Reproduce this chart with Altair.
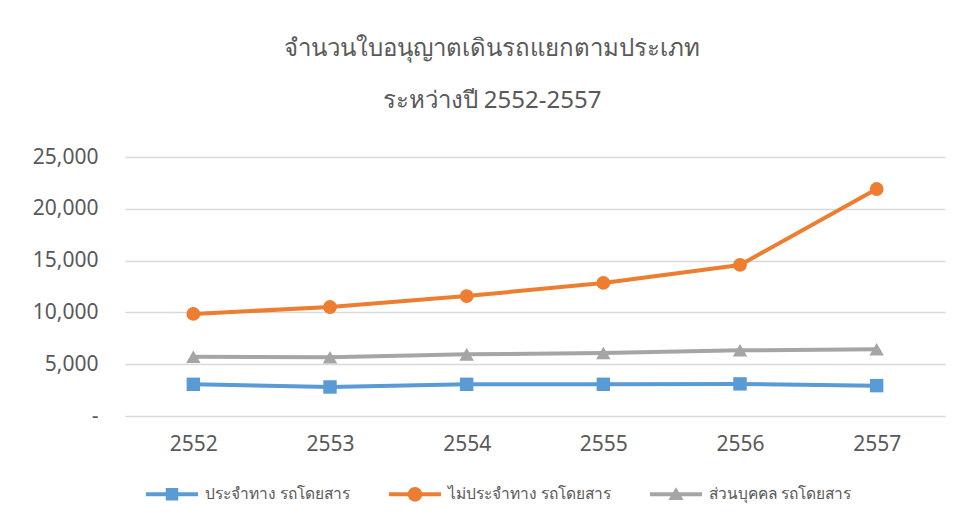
import altair as alt
import pandas as pd

years = ["2552", "2553", "2554", "2555", "2556", "2557"]
series_names = ["ประจำทาง รถโดยสาร", "ไม่ประจำทาง รถโดยสาร", "ส่วนบุคคล รถโดยสาร"]
fixed_route = [3060, 2800, 3060, 3060, 3100, 2930]
non_fixed_route = [9850, 10520, 11580, 12840, 14580, 21910]
private_bus = [5720, 5670, 5950, 6080, 6340, 6440]
colors = ["#5B9BD5", "#ED7D31", "#A5A5A5"]
marker_shapes = ["square", "circle", "triangle-up"]
marker_sizes = [180, 190, 210]
y_ticks = [0, 5000, 10000, 15000, 20000, 25000]
title_lines = ["จำนวนใบอนุญาตเดินรถแยกตามประเภท", "ระหว่างปี 2552-2557"]

rows = []
for name, vals in zip(series_names, [fixed_route, non_fixed_route, private_bus]):
    for y, v in zip(years, vals):
        rows.append({"year": y, "value": v, "series": name})
df = pd.DataFrame(rows)

# legend symbols: line + marker (paths in [-1,1] box)
line_part = "M-1,-0.075 L1,-0.075 L1,0.075 L-1,0.075 Z "
legend_paths = [
    line_part + "M-0.24,-0.24 L0.24,-0.24 L0.24,0.24 L-0.24,0.24 Z",
    line_part + "M-0.28,0 A0.28,0.28 0 1,1 0.28,0 A0.28,0.28 0 1,1 -0.28,0 Z",
    line_part + "M0,-0.27 L0.29,0.22 L-0.29,0.22 Z",
]

color_scale = alt.Scale(domain=series_names, range=colors)
font = "Noto Sans"
label_color = "#595959"

x_enc = alt.X(
    "year:O",
    sort=years,
    scale=alt.Scale(type="point", padding=0.5),
    axis=alt.Axis(
        title=None, labelAngle=0, domain=False, ticks=False, grid=False,
        labelFontSize=21, labelColor=label_color, labelPadding=17, labelFont=font,
    ),
)
y_enc = alt.Y(
    "value:Q",
    scale=alt.Scale(domain=[0, 25000], nice=False),
    axis=alt.Axis(
        title=None, values=y_ticks, domain=False, ticks=False,
        gridColor="#D9D9D9", gridWidth=1.3,
        labelExpr="datum.value == 0 ? '-     ' : format(datum.value, ',')",
        labelFontSize=21, labelColor=label_color, labelPadding=27, labelFont=font,
    ),
)

legend_def = alt.Legend(
    title=None, orient="none", direction="horizontal",
    legendX=21, legendY=311,
    symbolSize=2704, symbolStrokeWidth=0, symbolOpacity=1,
    labelFontSize=15.5, labelColor=label_color, labelFont=font,
    labelOffset=7, columnPadding=38, labelLimit=400,
)

color_enc = alt.Color("series:N", scale=color_scale, sort=series_names, legend=legend_def)

lines = alt.Chart(df).mark_line(strokeWidth=4).encode(
    x=x_enc, y=y_enc, color=color_enc, detail="series:N",
)

point_layers = []
for name, shp, sz in zip(series_names, marker_shapes, marker_sizes):
    point_layers.append(
        alt.Chart(df)
        .transform_filter(alt.datum.series == name)
        .mark_point(filled=True, opacity=1, shape=shp, size=sz)
        .encode(x=x_enc, y=y_enc, color=color_enc)
    )

legend_layer = alt.Chart(df).mark_point(filled=True, opacity=0).encode(
    x=x_enc, y=y_enc,
    color=color_enc,
    shape=alt.Shape(
        "series:N", sort=series_names,
        scale=alt.Scale(domain=series_names, range=legend_paths),
        legend=legend_def,
    ),
)

chart = (
    alt.layer(legend_layer, lines, *point_layers)
    .properties(
        width=820, height=259,
        background="white",
        autosize=alt.AutoSizeParams(type="none"),
        padding={"left": 117, "top": 149, "right": 11, "bottom": 100},
        title=alt.TitleParams(
            text=title_lines, fontSize=24, font=font, fontWeight="normal",
            color=label_color, lineHeight=52, offset=33, dx=-43, anchor="middle",
        ),
    )
    .configure_view(stroke=None)
)

chart.save("out.html", embed_options={"renderer": "svg", "actions": False})
